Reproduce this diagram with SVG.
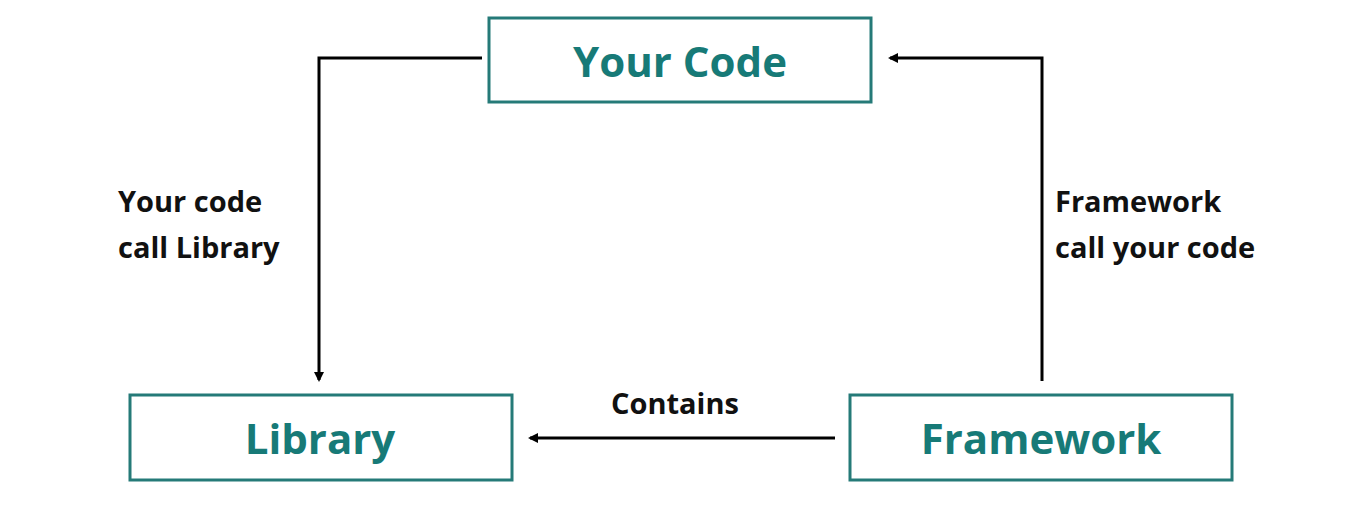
<svg xmlns="http://www.w3.org/2000/svg" width="1366" height="511" viewBox="0 0 1366 511">
<style>
.box{fill:#fff;stroke:#257a78;stroke-width:3}
.t{font-family:"Open Sans","Liberation Sans",sans-serif;font-weight:bold;font-size:42px;fill:#177a77;text-anchor:middle}
.l{font-family:"Open Sans","Liberation Sans",sans-serif;font-weight:bold;font-size:29px;fill:#111}
.c{fill:none;stroke:#000;stroke-width:3}
</style>
<defs><marker id="a" markerWidth="10" markerHeight="10" refX="8" refY="5" orient="auto" markerUnits="userSpaceOnUse"><path d="M0,0 L10,5 L0,10 z" fill="#000"/></marker></defs>
<rect width="1366" height="511" fill="#fff"/>
<g id="connectors">
<path class="c" d="M482,58 H319 V380" marker-end="url(#a)"/>
<path class="c" d="M1042,381 V58 H890" marker-end="url(#a)"/>
<path class="c" d="M835,438 H530" marker-end="url(#a)"/>
</g>
<g id="your-code"><rect class="box" x="489" y="18" width="382" height="84"/><text class="t" x="680" y="77">Your Code</text></g>
<g id="library"><rect class="box" x="130" y="395" width="382" height="85"/><text class="t" x="320" y="454">Library</text></g>
<g id="framework"><rect class="box" x="850" y="395" width="382" height="85"/><text class="t" x="1041" y="454">Framework</text></g>
<g id="labels">
<text class="l" x="118" y="212">Your code</text>
<text class="l" x="118" y="258">call Library</text>
<text class="l" x="1055" y="212">Framework</text>
<text class="l" x="1055" y="258">call your code</text>
<text class="l" x="611" y="414">Contains</text>
</g>
</svg>
